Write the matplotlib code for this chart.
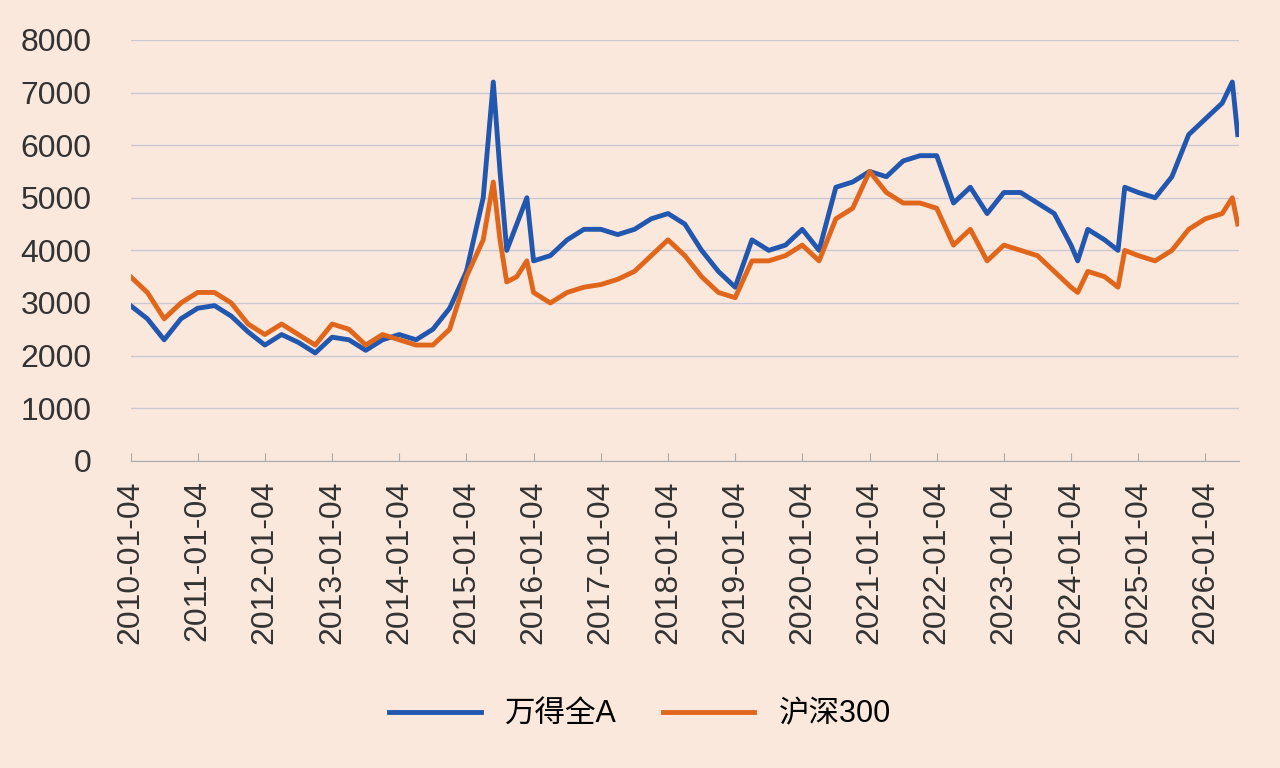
import matplotlib
matplotlib.use("Agg")
import matplotlib.pyplot as plt
import pandas as pd

plt.rcParams['font.family'] = ['Liberation Sans', 'Noto Sans CJK SC', 'DejaVu Sans']

t = [2010.0,2010.25,2010.5,2010.75,2011.0,2011.25,2011.5,2011.75,2012.0,2012.25,2012.5,2012.75,
     2013.0,2013.25,2013.5,2013.75,2014.0,2014.25,2014.5,2014.75,2015.0,2015.25,2015.4,2015.5,
     2015.6,2015.75,2015.9,2016.0,2016.25,2016.5,2016.75,2017.0,2017.25,2017.5,2017.75,2018.0,
     2018.25,2018.5,2018.75,2019.0,2019.25,2019.5,2019.75,2020.0,2020.25,2020.5,2020.75,2021.0,
     2021.25,2021.5,2021.75,2022.0,2022.25,2022.5,2022.75,2023.0,2023.25,2023.5,2023.75,2024.0,
     2024.1,2024.25,2024.5,2024.7,2024.8,2025.0,2025.25,2025.5,2025.75,2026.0,2026.25,2026.4,2026.48]
wind_a = [2950,2700,2300,2700,2900,2950,2750,2450,2200,2400,2250,2050,2350,2300,2100,2300,2400,2300,
          2500,2900,3600,5000,7200,5500,4000,4500,5000,3800,3900,4200,4400,4400,4300,4400,4600,4700,
          4500,4000,3600,3300,4200,4000,4100,4400,4000,5200,5300,5500,5400,5700,5800,5800,4900,5200,
          4700,5100,5100,4900,4700,4100,3800,4400,4200,4000,5200,5100,5000,5400,6200,6500,6800,7200,6200]
hs300 = [3500,3200,2700,3000,3200,3200,3000,2600,2400,2600,2400,2200,2600,2500,2200,2400,2300,2200,
         2200,2500,3500,4200,5300,4200,3400,3500,3800,3200,3000,3200,3300,3350,3450,3600,3900,4200,
         3900,3500,3200,3100,3800,3800,3900,4100,3800,4600,4800,5500,5100,4900,4900,4800,4100,4400,
         3800,4100,4000,3900,3600,3300,3200,3600,3500,3300,4000,3900,3800,4000,4400,4600,4700,5000,4500]
years = list(range(2010, 2027))

def todate(x):
    y = int(x); return pd.Timestamp(y, 1, 4) + pd.Timedelta(days=(x - y) * 365.25)
dates = [todate(x) for x in t]

bg = '#fbe8dc'
fig = plt.figure(figsize=(12.8, 7.68), dpi=100, facecolor=bg)
ax = fig.add_axes([0.102, 0.40, 0.866, 0.548], facecolor=bg)
ax.plot(dates, wind_a, color='#2257b0', lw=3.5, label='万得全A')
ax.plot(dates, hs300, color='#e0661c', lw=3.5, label='沪深300')
ax.set_ylim(0, 8000)
ax.set_yticks(range(0, 8001, 1000))
ax.set_xlim(pd.Timestamp(2010, 1, 4), todate(2026.5))
ax.set_xticks([pd.Timestamp(y, 1, 4) for y in years])
ax.set_xticklabels([f'{y}-01-04' for y in years], rotation=90)
ax.tick_params(axis='both', labelsize=23, colors='#333333', length=0)
ax.tick_params(axis='y', pad=28)
ax.tick_params(axis='x', length=6, color='#aaaaaa', direction='in', pad=14)
ax.grid(axis='y', color='#c9c9d4', lw=1)
for s in ['top', 'right', 'left']:
    ax.spines[s].set_visible(False)
ax.spines['bottom'].set_color('#aaaaaa')
ax.set_axisbelow(True)
fig.legend(loc='center', bbox_to_anchor=(0.5, 0.07), ncol=2, frameon=False, fontsize=22,
           handlelength=3, columnspacing=1.5)
fig.savefig('out.png', facecolor=bg)
